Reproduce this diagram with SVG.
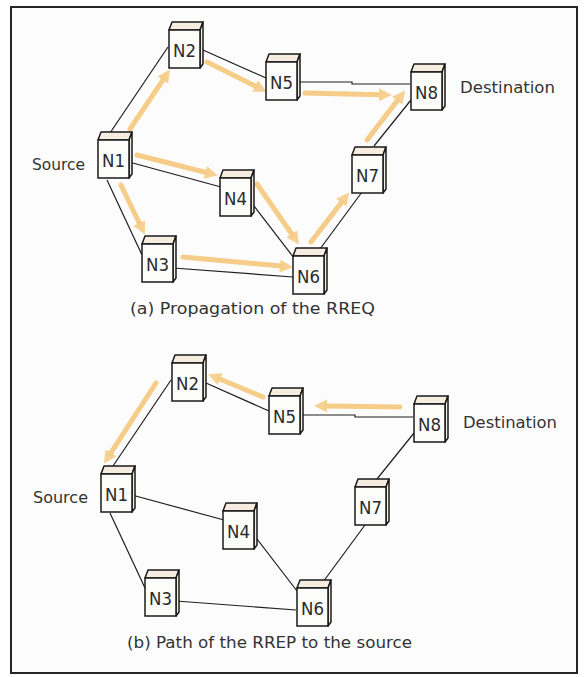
<svg xmlns="http://www.w3.org/2000/svg" xmlns:xlink="http://www.w3.org/1999/xlink" width="584" height="677" viewBox="0 0 584 677">
<style>
.lnk{fill:none;stroke:#1e1e1e;stroke-width:1.2}
.arr{fill:none;stroke:#f5c87c;stroke-width:5;stroke-linecap:round;opacity:0.9}
.lbl{font-family:"DejaVu Sans",sans-serif;font-size:18px;fill:#2b2b2b;text-anchor:middle}
.txt{font-family:"DejaVu Sans",sans-serif;font-size:16.5px;fill:#333}
.cf{fill:#fcfcfa;stroke:#1a1a1a;stroke-width:1.5}
.ct{fill:#f6ede0;stroke:#1a1a1a;stroke-width:1.5;stroke-linejoin:round}
</style>
<defs>
<marker id="ah" markerUnits="userSpaceOnUse" viewBox="0 0 12 12" markerWidth="13" markerHeight="13" refX="1" refY="6" orient="auto">
<path d="M0,0 L12,6 L0,12 Z" fill="#f5c87c" opacity="0.9"/>
</marker>
<g id="cube">
<polygon class="ct" points="0,0 3,-8 34,-8 31,0"/>
<polygon class="ct" points="31,0 34,-8 34,34 31,38"/>
<rect class="cf" x="0" y="0" width="31" height="38"/>
</g>
</defs>
<rect x="0" y="0" width="584" height="677" fill="#ffffff"/>
<rect x="11" y="7" width="566" height="666" fill="#fcfcfc" stroke="#262626" stroke-width="2"/>

<g id="connectors">
<!-- top diagram links -->
<line class="lnk" x1="110" y1="133" x2="168" y2="47"/>
<line class="lnk" x1="203" y1="50" x2="266" y2="78"/>
<polyline class="lnk" points="299,82 352,82 352,84 410,84"/>
<line class="lnk" x1="411" y1="100" x2="374" y2="146"/>
<line class="lnk" x1="362" y1="192" x2="320" y2="249"/>
<line class="lnk" x1="129" y1="162" x2="221" y2="187"/>
<line class="lnk" x1="251" y1="202" x2="294" y2="258"/>
<line class="lnk" x1="107" y1="180" x2="142" y2="255"/>
<line class="lnk" x1="173" y1="268" x2="293" y2="277"/>
<!-- top diagram RREQ arrows -->
<line class="arr" x1="130" y1="129" x2="163.4" y2="79.3" marker-end="url(#ah)"/>
<line class="arr" x1="207" y1="62" x2="256" y2="86.5" marker-end="url(#ah)"/>
<line class="arr" x1="305" y1="93" x2="380" y2="94.8" marker-end="url(#ah)"/>
<line class="arr" x1="367" y1="140" x2="397.9" y2="99.9" marker-end="url(#ah)"/>
<line class="arr" x1="311" y1="242" x2="341.9" y2="201.9" marker-end="url(#ah)"/>
<line class="arr" x1="137" y1="155" x2="206.3" y2="172.5" marker-end="url(#ah)"/>
<line class="arr" x1="257" y1="184" x2="292.3" y2="234.8" marker-end="url(#ah)"/>
<line class="arr" x1="121" y1="185" x2="139.7" y2="224" marker-end="url(#ah)"/>
<line class="arr" x1="183" y1="257" x2="281" y2="266.1" marker-end="url(#ah)"/>
<!-- bottom diagram links -->
<line class="lnk" x1="113" y1="466" x2="171" y2="380"/>
<line class="lnk" x1="206" y1="383" x2="269" y2="411"/>
<polyline class="lnk" points="302,415 355,415 355,417 413,417"/>
<line class="lnk" x1="414" y1="433" x2="377" y2="479"/>
<line class="lnk" x1="365" y1="525" x2="323" y2="582"/>
<line class="lnk" x1="132" y1="495" x2="224" y2="520"/>
<line class="lnk" x1="254" y1="535" x2="297" y2="591"/>
<line class="lnk" x1="110" y1="513" x2="145" y2="588"/>
<line class="lnk" x1="176" y1="601" x2="296" y2="610"/>
<!-- bottom diagram RREP arrows -->
<line class="arr" x1="400" y1="407" x2="326" y2="406" marker-end="url(#ah)"/>
<line class="arr" x1="263" y1="397" x2="219.2" y2="378.8" marker-end="url(#ah)"/>
<line class="arr" x1="156" y1="383" x2="110.4" y2="453.6" marker-end="url(#ah)"/>
</g>

<!-- top diagram nodes -->
<g id="a-N1"><use xlink:href="#cube" x="98" y="140"/><text class="lbl" x="113.5" y="167" textLength="23" lengthAdjust="spacingAndGlyphs">N1</text></g>
<g id="a-N2"><use xlink:href="#cube" x="169" y="30"/><text class="lbl" x="184.5" y="57" textLength="23" lengthAdjust="spacingAndGlyphs">N2</text></g>
<g id="a-N5"><use xlink:href="#cube" x="266" y="62"/><text class="lbl" x="281.5" y="89" textLength="23" lengthAdjust="spacingAndGlyphs">N5</text></g>
<g id="a-N8"><use xlink:href="#cube" x="411" y="72"/><text class="lbl" x="426.5" y="99" textLength="23" lengthAdjust="spacingAndGlyphs">N8</text></g>
<g id="a-N4"><use xlink:href="#cube" x="220" y="178"/><text class="lbl" x="235.5" y="205" textLength="23" lengthAdjust="spacingAndGlyphs">N4</text></g>
<g id="a-N7"><use xlink:href="#cube" x="352" y="155"/><text class="lbl" x="367.5" y="182" textLength="23" lengthAdjust="spacingAndGlyphs">N7</text></g>
<g id="a-N3"><use xlink:href="#cube" x="142" y="244"/><text class="lbl" x="157.5" y="271" textLength="23" lengthAdjust="spacingAndGlyphs">N3</text></g>
<g id="a-N6"><use xlink:href="#cube" x="293" y="256"/><text class="lbl" x="308.5" y="283" textLength="23" lengthAdjust="spacingAndGlyphs">N6</text></g>
<g id="a-labels">
<text class="txt" x="32" y="170" textLength="53" lengthAdjust="spacingAndGlyphs">Source</text>
<text class="txt" x="460" y="93" textLength="95" lengthAdjust="spacingAndGlyphs">Destination</text>
<text class="txt" x="130" y="314" textLength="245" lengthAdjust="spacingAndGlyphs">(a) Propagation of the RREQ</text>
</g>

<!-- bottom diagram nodes -->
<g id="b-N1"><use xlink:href="#cube" x="101" y="474"/><text class="lbl" x="116.5" y="501" textLength="23" lengthAdjust="spacingAndGlyphs">N1</text></g>
<g id="b-N2"><use xlink:href="#cube" x="172" y="363"/><text class="lbl" x="187.5" y="390" textLength="23" lengthAdjust="spacingAndGlyphs">N2</text></g>
<g id="b-N5"><use xlink:href="#cube" x="269" y="396"/><text class="lbl" x="284.5" y="423" textLength="23" lengthAdjust="spacingAndGlyphs">N5</text></g>
<g id="b-N8"><use xlink:href="#cube" x="414" y="404"/><text class="lbl" x="429.5" y="431" textLength="23" lengthAdjust="spacingAndGlyphs">N8</text></g>
<g id="b-N4"><use xlink:href="#cube" x="223" y="511"/><text class="lbl" x="238.5" y="538" textLength="23" lengthAdjust="spacingAndGlyphs">N4</text></g>
<g id="b-N7"><use xlink:href="#cube" x="355" y="487"/><text class="lbl" x="370.5" y="514" textLength="23" lengthAdjust="spacingAndGlyphs">N7</text></g>
<g id="b-N3"><use xlink:href="#cube" x="145" y="578"/><text class="lbl" x="160.5" y="605" textLength="23" lengthAdjust="spacingAndGlyphs">N3</text></g>
<g id="b-N6"><use xlink:href="#cube" x="297" y="588"/><text class="lbl" x="312.5" y="615" textLength="23" lengthAdjust="spacingAndGlyphs">N6</text></g>
<g id="b-labels">
<text class="txt" x="33" y="503" textLength="55" lengthAdjust="spacingAndGlyphs">Source</text>
<text class="txt" x="463" y="428" textLength="94" lengthAdjust="spacingAndGlyphs">Destination</text>
<text class="txt" x="127" y="648" textLength="285" lengthAdjust="spacingAndGlyphs">(b) Path of the RREP to the source</text>
</g>
</svg>
